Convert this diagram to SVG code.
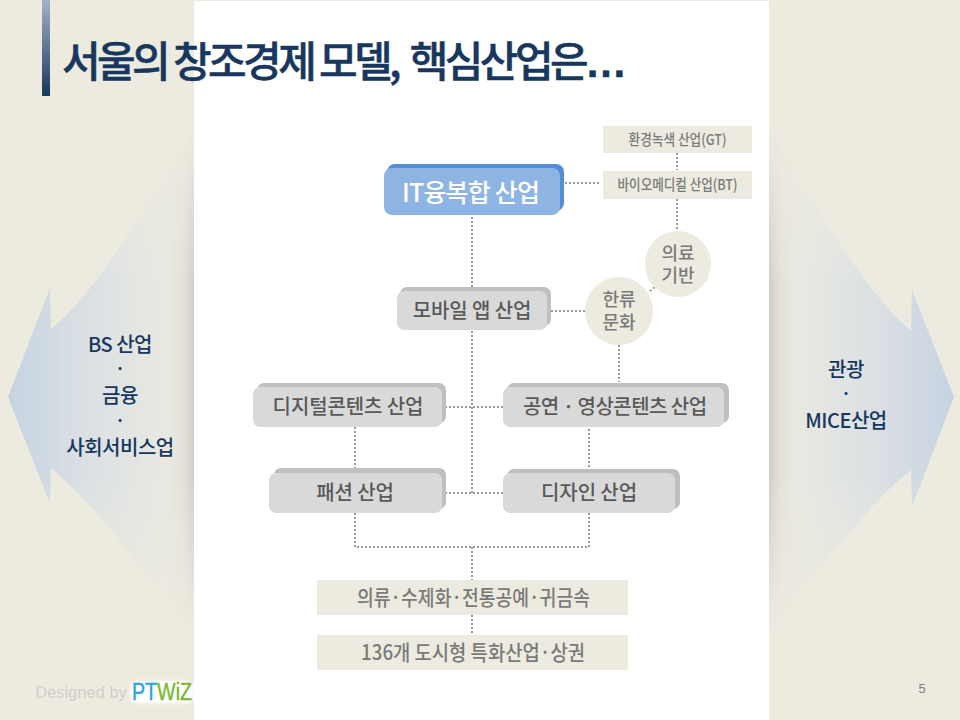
<svg xmlns="http://www.w3.org/2000/svg" width="960" height="720" viewBox="0 0 960 720">
<style>
text{font-family:"Noto Sans CJK KR","Liberation Sans",sans-serif;text-anchor:middle}
.c{fill:none;stroke:#999;stroke-width:2;stroke-dasharray:2 2}
.bk{fill:#bfbfbf}.fr{fill:#d9d9d9}
.g{fill:#595959;font-size:20px;font-weight:500;letter-spacing:-.1px}
.b{fill:#edebe0}
.s{fill:#7a7a7a;font-size:15px;font-weight:500}
.m{fill:#7a7a7a;font-size:21px;font-weight:500}
.n{fill:#7a7a7a;font-size:18px;font-weight:500}
.w{fill:#17375e;font-size:20px;font-weight:500;letter-spacing:-.5px}
.d{fill:#17375e;font-size:14px;font-weight:900}
.l{font-family:"Liberation Sans",sans-serif}
</style>
<defs>
<linearGradient id="bar" x1="0" y1="0" x2="0" y2="1"><stop offset="0" stop-color="#a3b2c8"/><stop offset="1" stop-color="#17375e"/></linearGradient>
<linearGradient id="la" x1="8" y1="0" x2="194" y2="0" gradientUnits="userSpaceOnUse"><stop offset="0" stop-color="#c5d3e2"/><stop offset=".3" stop-color="#d6dde3"/><stop offset=".85" stop-color="#e9e9e2"/><stop offset=".94" stop-color="#e3e2d9"/><stop offset="1" stop-color="#d1cfc5"/></linearGradient>
<linearGradient id="ra" x1="954" y1="0" x2="769" y2="0" gradientUnits="userSpaceOnUse"><stop offset="0" stop-color="#c5d3e2"/><stop offset=".3" stop-color="#d6dde3"/><stop offset=".85" stop-color="#e9e9e2"/><stop offset=".94" stop-color="#e3e2d9"/><stop offset="1" stop-color="#d1cfc5"/></linearGradient>
<linearGradient id="fade" x1="0" y1="130" x2="0" y2="630" gradientUnits="userSpaceOnUse"><stop offset="0" stop-color="#fff" stop-opacity="0"/><stop offset=".3" stop-color="#fff"/><stop offset=".7" stop-color="#fff"/><stop offset="1" stop-color="#fff" stop-opacity="0"/></linearGradient>
<mask id="fm" maskUnits="userSpaceOnUse" x="0" y="0" width="960" height="720"><rect x="0" y="0" width="960" height="720" fill="url(#fade)"/></mask>
<filter id="glow" x="-10%" y="-30%" width="120%" height="160%"><feGaussianBlur stdDeviation="1.5"/></filter>
</defs>
<rect id="bg" width="960" height="720" fill="#edebe0"/>
<g id="left-arrow"><path mask="url(#fm)" d="M8 397L50 288L51 329C95 293 135 225 194 130V630C135 560 95 505 51 468L50 504Z" fill="url(#la)"/></g>
<g id="right-arrow"><path mask="url(#fm)" d="M954 397L912 290L911 331C867 293 827 225 769 130V630C827 560 867 505 911 470L912 507Z" fill="url(#ra)"/></g>
<rect id="panel" x="194" y="1" width="575" height="719" fill="#fff"/>
<g id="title"><rect x="42" y="0" width="8" height="96" fill="url(#bar)"/>
<text x="344.500" y="77" textLength="565" lengthAdjust="spacing" font-size="42" font-weight="500" fill="#17375e" stroke="#17375e" stroke-width=".5" style="white-space:pre">서울의 창조경제 모델,  핵심산업은<tspan class="l" font-weight="700">…</tspan></text></g>
<g id="connectors">
<path class="c" d="M472 217V287M472 331V493M565 183H601M677 153V170M677 199V229M650 291L660 283M551 311H585M619 345V382M445 407H503M355 427V469M589 429V469M445 493H503M355 513V547H589V513M472 547V580M472 615V635"/>
</g>
<g id="n-gt"><rect class="b" x="603" y="126" width="149" height="27"/><text class="s" x="677.500" y="145" textLength="98" lengthAdjust="spacingAndGlyphs">환경녹색 산업(GT)</text></g>
<g id="n-bt"><rect class="b" x="603" y="171" width="149" height="28"/><text class="s" x="677.500" y="190" textLength="120" lengthAdjust="spacingAndGlyphs">바이오메디컬 산업(BT)</text></g>
<g id="n-it"><rect x="387" y="164" width="177" height="47" rx="8" fill="#558ed5"/><rect x="384" y="168" width="176" height="47" rx="8" fill="#8eb4e3"/>
<text x="471" y="202" fill="#fff" font-size="25" font-weight="500" textLength="138" lengthAdjust="spacing">IT융복합 산업</text></g>
<g id="n-med"><circle class="b" cx="678" cy="264" r="33"/><text class="n"><tspan x="678" y="260">의료</tspan><tspan x="678" y="282">기반</tspan></text></g>
<g id="n-hallyu"><circle class="b" cx="619" cy="311" r="34"/><text class="n"><tspan x="619" y="306">한류</tspan><tspan x="619" y="329">문화</tspan></text></g>
<g id="n-mobile"><rect class="bk" x="400" y="287" width="151" height="39" rx="7"/><rect class="fr" x="397" y="291" width="150" height="39" rx="7"/><text class="g" x="472" y="318">모바일 앱 산업</text></g>
<g id="n-digital"><rect class="bk" x="257" y="383" width="189" height="40" rx="7"/><rect class="fr" x="253" y="387" width="189" height="40" rx="7"/><text class="g" x="348" y="414">디지털콘텐츠 산업</text></g>
<g id="n-perf"><rect class="bk" x="507" y="383" width="222" height="40" rx="7"/><rect class="fr" x="503" y="387" width="221" height="40" rx="7"/><text class="g" x="615" y="414" textLength="184" lengthAdjust="spacing">공연 · 영상콘텐츠 산업</text></g>
<g id="n-fashion"><rect class="bk" x="274" y="468" width="172" height="41" rx="7"/><rect class="fr" x="269" y="473" width="173" height="40" rx="7"/><text class="g" x="355" y="500">패션 산업</text></g>
<g id="n-design"><rect class="bk" x="507" y="469" width="173" height="40" rx="7"/><rect class="fr" x="503" y="473" width="172" height="40" rx="7"/><text class="g" x="589" y="500">디자인 산업</text></g>
<g id="n-craft"><rect class="b" x="317" y="580" width="311" height="35"/><text class="m" x="473.500" y="605" textLength="233" lengthAdjust="spacingAndGlyphs">의류·수제화·전통공예·귀금속</text></g>
<g id="n-city"><rect class="b" x="317" y="635" width="311" height="35"/><text class="m" x="473" y="660" textLength="224" lengthAdjust="spacingAndGlyphs">136개 도시형 특화산업·상권</text></g>
<g id="left-text"><text class="w" x="120" y="352">BS 산업</text><text class="d" x="120" y="374">·</text><text class="w" x="120" y="403">금융</text><text class="d" x="120" y="426">·</text><text class="w" x="120" y="455">사회서비스업</text></g>
<g id="right-text"><text class="w" x="846" y="377">관광</text><text class="d" x="846" y="399">·</text><text class="w" x="846" y="428">MICE산업</text></g>
<g id="footer">
<text class="l" x="81" y="698" font-size="16" fill="#cfcfca" textLength="91" lengthAdjust="spacing">Designed by</text>
<rect x="130" y="681" width="64" height="22" rx="8" fill="#fff" filter="url(#glow)"/>
<text class="l" x="162" y="700" font-size="23" stroke-width=".4" textLength="60" lengthAdjust="spacingAndGlyphs"><tspan fill="#29a3dc" stroke="#29a3dc">PT</tspan><tspan fill="#7ab92e" stroke="#7ab92e">WiZ</tspan></text>
<text class="l" x="922" y="693" font-size="13" fill="#7f7f7f">5</text>
</g>
</svg>
